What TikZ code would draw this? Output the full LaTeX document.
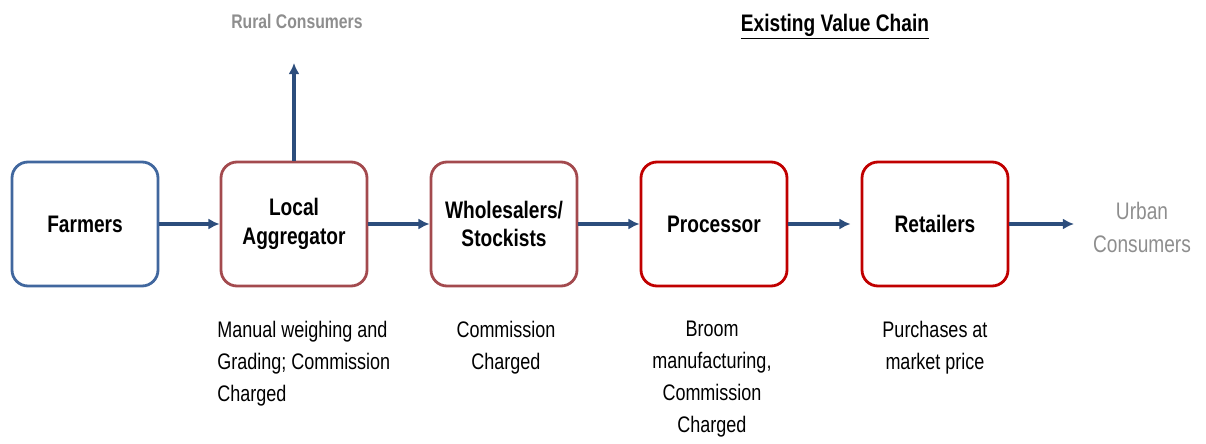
\documentclass[tikz,border=0pt]{standalone}
\usepackage{fontspec}
\setmainfont{Liberation Sans}[FakeStretch=0.8]
\usetikzlibrary{arrows.meta}
\definecolor{farmblue}{HTML}{41679E}
\definecolor{aggred}{HTML}{A34A4E}
\definecolor{procred}{HTML}{C00000}
\definecolor{flowblue}{HTML}{2C4D7C}
\definecolor{consgray}{HTML}{8E8E8E}
\begin{document}
\begin{tikzpicture}[
    chainbox/.style={draw, line width=0.07cm, rounded corners=0.4cm,
        minimum width=3.65cm, minimum height=3.1cm, inner sep=0pt,
        align=center, font=\fontsize{17}{20.5}\selectfont\bfseries},
    flow/.style={draw=flowblue, line width=0.08cm,
        -{Latex[length=0.28cm,width=0.28cm]}},
    note/.style={inner sep=0pt, anchor=north, align=center,
        font=\fontsize{16}{22.8}\selectfont},
    consumer/.style={text=consgray, inner sep=0pt, align=center}
  ]
  \useasboundingbox (0,0) rectangle (30.15,11.075);

  % Title
  \node [inner sep=0pt, font=\fontsize{17}{20}\selectfont\bfseries]
    (title) at (20.875,10.4) {\underline{Existing Value Chain}};

  % Boxes of the chain
  \node [chainbox, draw=farmblue] (farm) at (2.125,5.475) {Farmers};
  \node [chainbox, draw=aggred]   (agg)  at (7.35,5.475)  {Local\\Aggregator};
  \node [chainbox, draw=aggred]   (whole) at (12.6,5.475) {Wholesalers/\\Stockists};
  \node [chainbox, draw=procred]  (proc) at (17.85,5.475) {Processor};
  \node [chainbox, draw=procred]  (ret)  at (23.375,5.475) {Retailers};

  % Consumers
  \node [consumer, font=\fontsize{14}{17}\selectfont\bfseries]
    (rural) at (7.425,10.55) {Rural Consumers};
  \node [consumer, font=\fontsize{17}{23.5}\selectfont]
    (urban) at (28.55,5.4) {Urban\\Consumers};
  \coordinate (ruralend) at (7.35,9.5);
  \coordinate (urbanend) at (26.85,5.475);

  % Flows
  \draw [flow] (farm.east) -- (agg.west);
  \draw [flow] (agg.east) -- (whole.west);
  \draw [flow] (whole.east) -- (proc.west);
  \draw [flow, shorten >=0.25cm] (proc.east) -- (ret.west);
  \draw [flow] (ret.east) -- (urbanend);
  \draw [flow] (agg.north) -- (ruralend);

  % Notes under the boxes
  \node [note, anchor=north west, align=left] (aggnote) at (5.425,3.05)
    {Manual weighing and\\Grading; Commission\\Charged};
  \node [note] (wholenote) at (12.65,3.05) {Commission\\Charged};
  \node [note] (procnote) at (17.8,3.05)
    {Broom\\manufacturing,\\Commission\\Charged};
  \node [note] (retnote) at (23.375,3.05) {Purchases at\\market price};
\end{tikzpicture}
\end{document}
